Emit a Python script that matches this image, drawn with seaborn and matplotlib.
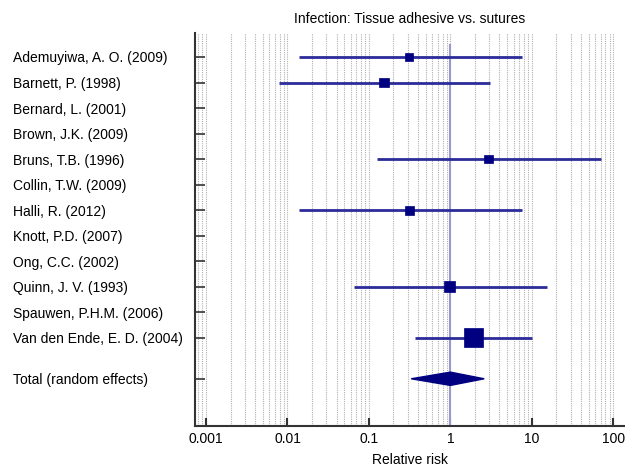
import numpy as np
import pandas as pd
import matplotlib
matplotlib.use("Agg")
import matplotlib.pyplot as plt
import seaborn as sns

studies = ["Ademuyiwa, A. O. (2009)", "Barnett, P. (1998)", "Bernard, L. (2001)",
           "Brown, J.K. (2009)", "Bruns, T.B. (1996)", "Collin, T.W. (2009)",
           "Halli, R. (2012)", "Knott, P.D. (2007)", "Ong, C.C. (2002)",
           "Quinn, J. V. (1993)", "Spauwen, P.H.M. (2006)", "Van den Ende, E. D. (2004)"]
rr = [0.31, 0.153, np.nan, np.nan, 2.93, np.nan, 0.315, np.nan, np.nan, 0.97, np.nan, 1.93]
ci_lo = [0.014, 0.0078, np.nan, np.nan, 0.127, np.nan, 0.014, np.nan, np.nan, 0.066, np.nan, 0.37]
ci_hi = [7.5, 3.08, np.nan, np.nan, 70.0, np.nan, 7.5, np.nan, np.nan, 15.2, np.nan, 9.9]
weight = [9.3, 11.1, np.nan, np.nan, 8.9, np.nan, 9.3, np.nan, np.nan, 14.8, np.nan, 46.6]

total_label = "Total (random effects)"
total_rr, total_lo, total_hi = 1.0, 0.33, 2.6

navy = "#000080"
line_col = "#2b2b99"

df = pd.DataFrame({"study": studies, "rr": rr, "lo": ci_lo, "hi": ci_hi, "w": weight})
df["y"] = np.arange(len(df))
total_y = len(df) + 0.6

sns.set_style("white")
plt.rcParams["font.family"] = ["Liberation Sans", "DejaVu Sans"]
plt.rcParams["text.color"] = "black"
plt.rcParams["axes.labelcolor"] = "black"
plt.rcParams["xtick.labelcolor"] = "black"
plt.rcParams["ytick.labelcolor"] = "black"

fig = plt.figure(figsize=(6.25, 4.68), dpi=100)
ax = fig.add_axes([0.312, 0.0897, 0.687, 0.8398])

ax.set_xscale("log")
ax.set_xlim(10 ** -3.135, 10 ** 2.135)
ax.set_ylim(total_y + 1.85, -0.94)

# grid
ax.xaxis.set_major_locator(matplotlib.ticker.LogLocator(base=10, numticks=10))
ax.xaxis.set_minor_locator(matplotlib.ticker.LogLocator(base=10, subs=np.arange(2, 10), numticks=20))
ax.xaxis.set_minor_formatter(matplotlib.ticker.NullFormatter())
ax.grid(True, which="both", axis="x", color="#b0b0b0", linestyle=(0, (1, 1)), linewidth=0.8)
ax.grid(False, axis="y")

# null line
ax.vlines(1, -0.5, total_y + 1.85, color="#9999cc", linewidth=1.5, zorder=2)

# confidence intervals
d = df.dropna()
ax.hlines(d["y"], d["lo"], d["hi"], color=line_col, linewidth=2, zorder=3)
sns.scatterplot(data=d, x="rr", y="y", size="w", sizes=(d["w"].min() * 4.2, d["w"].max() * 4.0),
                marker="s", color=navy, edgecolor=navy, linewidth=0.5, legend=False, ax=ax, zorder=4)

# pooled diamond
h = 0.26
ax.fill([total_lo, total_rr, total_hi, total_rr], [total_y, total_y - h, total_y, total_y + h],
        color=navy, zorder=4)

yt = list(df["y"]) + [total_y]
ax.set_yticks(yt)
ax.set_yticklabels(studies + [total_label], fontsize=10)
for lab in ax.get_yticklabels():
    lab.set_horizontalalignment("left")
ax.tick_params(axis="y", direction="in", length=7.5, width=1.2, color="#333333", pad=131, left=True)

ax.set_xticks([0.001, 0.01, 0.1, 1, 10, 100])
ax.set_xticklabels(["0.001", "0.01", "0.1", "1", "10", "100"], fontsize=10)
ax.tick_params(axis="x", which="major", direction="in", length=6, width=1.5, color="#333333",
               pad=4, bottom=True)
ax.tick_params(axis="x", which="minor", length=0)

for s in ["top", "right"]:
    ax.spines[s].set_visible(False)
for s in ["left", "bottom"]:
    ax.spines[s].set_color("#333333")
    ax.spines[s].set_linewidth(1.5)

ax.set_xlabel("Relative risk", fontsize=10, labelpad=5)
ax.set_ylabel("")
ax.set_title("Infection: Tissue adhesive vs. sutures", fontsize=10, pad=7)

fig.savefig("out.png", dpi=100)
